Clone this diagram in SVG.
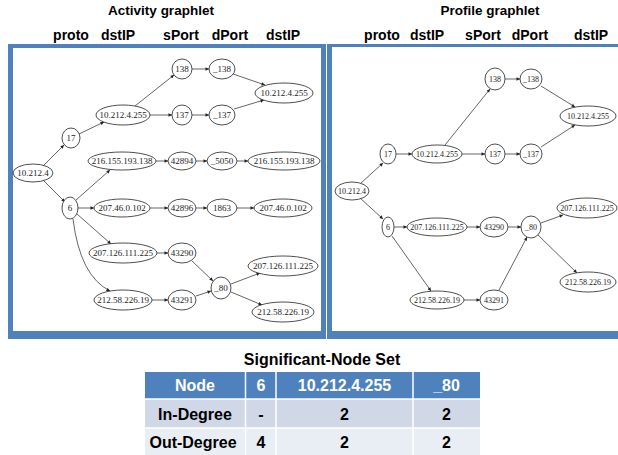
<svg xmlns="http://www.w3.org/2000/svg" width="618" height="455" viewBox="0 0 618 455">
<style>
.title{font-family:"Liberation Sans",Arial,sans-serif;font-weight:bold;font-size:13.5px;fill:#000;text-anchor:middle}
.hdr{font-family:"Liberation Sans",Arial,sans-serif;font-weight:bold;font-size:14px;fill:#000;text-anchor:middle}
.nd ellipse{fill:#fff;stroke:#222;stroke-width:0.8}
.nd text{font-family:"Liberation Serif","Times New Roman",serif;font-size:9px;fill:#222;text-anchor:middle}
.r .nd text{font-size:8px}
.edges line,.edges path{stroke:#222;stroke-width:0.7;fill:none;marker-end:url(#ah)}
.tt{font-family:"Liberation Sans",Arial,sans-serif;font-weight:bold;font-size:16px;text-anchor:middle;fill:#000}
.th{fill:#fff}
.frame{fill:#4F81BD}
</style>
<defs>
<marker id="ah" viewBox="0 0 10 10" refX="10" refY="5" markerWidth="4.5" markerHeight="3.5" markerUnits="userSpaceOnUse" orient="auto">
<path d="M0,0 L10,5 L0,10 z" fill="#222"/>
</marker>
</defs>
<rect width="618" height="455" fill="#fff"/>

<!-- Titles -->
<text class="title" x="161" y="15">Activity graphlet</text>
<text class="title" x="490" y="15">Profile graphlet</text>
<text class="hdr" x="71" y="40">proto</text>
<text class="hdr" x="118" y="40">dstIP</text>
<text class="hdr" x="181" y="40">sPort</text>
<text class="hdr" x="230" y="40">dPort</text>
<text class="hdr" x="283" y="40">dstIP</text>
<text class="hdr" x="382" y="40">proto</text>
<text class="hdr" x="427" y="40">dstIP</text>
<text class="hdr" x="483" y="40">sPort</text>
<text class="hdr" x="530" y="40">dPort</text>
<text class="hdr" x="591" y="40">dstIP</text>

<!-- Frames -->
<path class="frame" d="M8,44 H326 V339 H8 Z M13,48 V331 H321 V48 Z" fill-rule="evenodd"/>
<path class="frame" d="M327,44 H620 V339 H327 Z M332,47 V331 H620 V47 Z" fill-rule="evenodd"/>

<!-- Left graph -->
<g class="l">
<g class="edges" id="edges-left">
<line x1="43" y1="166" x2="64" y2="145"/>
<line x1="43" y1="180" x2="65" y2="202"/>
<line x1="79" y1="134" x2="104" y2="122"/>
<line x1="135" y1="106" x2="174" y2="75"/>
<line x1="150" y1="115" x2="172" y2="115"/>
<line x1="192" y1="69" x2="209" y2="69"/>
<line x1="192" y1="115" x2="209" y2="115"/>
<line x1="233" y1="74" x2="265" y2="85"/>
<line x1="234" y1="109" x2="264" y2="100"/>
<line x1="76" y1="200" x2="110" y2="170"/>
<line x1="156" y1="161" x2="168" y2="161"/>
<line x1="196" y1="161" x2="207" y2="161"/>
<line x1="237" y1="161" x2="248" y2="161"/>
<line x1="78" y1="208" x2="94" y2="208"/>
<line x1="150" y1="208" x2="168" y2="208"/>
<line x1="196" y1="208" x2="207" y2="208"/>
<line x1="237" y1="208" x2="254" y2="208"/>
<line x1="77" y1="214" x2="111" y2="244"/>
<path d="M73,219 Q80,276 110,291"/>
<line x1="157" y1="253" x2="168" y2="253"/>
<line x1="152" y1="300" x2="168" y2="300"/>
<line x1="192" y1="261" x2="213" y2="281"/>
<line x1="196" y1="296" x2="211" y2="291"/>
<line x1="231" y1="284" x2="260" y2="273"/>
<line x1="231" y1="292" x2="262" y2="305"/>
</g>
<g class="nd" id="a1"><ellipse cx="33" cy="173" rx="20" ry="9"/><text x="33" y="176">10.212.4</text></g>
<g class="nd" id="a2"><ellipse cx="71" cy="138" rx="9" ry="10"/><text x="71" y="141">17</text></g>
<g class="nd" id="a3"><ellipse cx="70" cy="208" rx="8" ry="11"/><text x="70" y="211">6</text></g>
<g class="nd" id="a4"><ellipse cx="123" cy="115" rx="27" ry="10"/><text x="123" y="118">10.212.4.255</text></g>
<g class="nd" id="a5"><ellipse cx="122" cy="161" rx="34" ry="9"/><text x="122" y="164">216.155.193.138</text></g>
<g class="nd" id="a6"><ellipse cx="122" cy="208" rx="28" ry="9"/><text x="122" y="211">207.46.0.102</text></g>
<g class="nd" id="a7"><ellipse cx="123" cy="253" rx="34" ry="10"/><text x="123" y="256">207.126.111.225</text></g>
<g class="nd" id="a8"><ellipse cx="123" cy="300" rx="29" ry="10"/><text x="123" y="303">212.58.226.19</text></g>
<g class="nd" id="a9"><ellipse cx="182" cy="69" rx="10" ry="10"/><text x="182" y="72">138</text></g>
<g class="nd" id="a10"><ellipse cx="182" cy="115" rx="10" ry="10"/><text x="182" y="118">137</text></g>
<g class="nd" id="a11"><ellipse cx="182" cy="161" rx="14" ry="9"/><text x="182" y="164">42894</text></g>
<g class="nd" id="a12"><ellipse cx="182" cy="208" rx="14" ry="9"/><text x="182" y="211">42896</text></g>
<g class="nd" id="a13"><ellipse cx="182" cy="253" rx="14" ry="10"/><text x="182" y="256">43290</text></g>
<g class="nd" id="a14"><ellipse cx="182" cy="300" rx="14" ry="10"/><text x="182" y="303">43291</text></g>
<g class="nd" id="a15"><ellipse cx="222" cy="69" rx="13" ry="10"/><text x="222" y="72">_138</text></g>
<g class="nd" id="a16"><ellipse cx="222" cy="115" rx="13" ry="10"/><text x="222" y="118">_137</text></g>
<g class="nd" id="a17"><ellipse cx="222" cy="161" rx="15" ry="9"/><text x="222" y="164">_5050</text></g>
<g class="nd" id="a18"><ellipse cx="222" cy="208" rx="15" ry="9"/><text x="222" y="211">1863</text></g>
<g class="nd" id="a19"><ellipse cx="221" cy="288" rx="10" ry="11"/><text x="221" y="291">_80</text></g>
<g class="nd" id="a20"><ellipse cx="284" cy="93" rx="29" ry="10"/><text x="284" y="96">10.212.4.255</text></g>
<g class="nd" id="a21"><ellipse cx="284" cy="161" rx="36" ry="9"/><text x="284" y="164">216.155.193.138</text></g>
<g class="nd" id="a22"><ellipse cx="283" cy="208" rx="29" ry="9"/><text x="283" y="211">207.46.0.102</text></g>
<g class="nd" id="a23"><ellipse cx="283" cy="266" rx="35" ry="10"/><text x="283" y="269">207.126.111.225</text></g>
<g class="nd" id="a24"><ellipse cx="283" cy="312" rx="31" ry="10"/><text x="283" y="315">212.58.226.19</text></g>
</g>

<!-- Right graph -->
<g class="r">
<g class="edges" id="edges-right">
<line x1="361" y1="183" x2="383" y2="163"/>
<line x1="360" y1="198" x2="383" y2="219"/>
<line x1="396" y1="154" x2="412" y2="154"/>
<line x1="445" y1="145" x2="490" y2="89"/>
<line x1="462" y1="154" x2="485" y2="154"/>
<line x1="505" y1="79" x2="520" y2="79"/>
<line x1="505" y1="154" x2="520" y2="154"/>
<line x1="541" y1="86" x2="575" y2="107"/>
<line x1="541" y1="147" x2="575" y2="125"/>
<line x1="394" y1="227" x2="407" y2="227"/>
<line x1="392" y1="236" x2="431" y2="291"/>
<line x1="467" y1="227" x2="480" y2="227"/>
<line x1="508" y1="227" x2="521" y2="227"/>
<line x1="464" y1="300" x2="480" y2="300"/>
<line x1="499" y1="290" x2="527" y2="237"/>
<line x1="541" y1="223" x2="563" y2="215"/>
<line x1="538" y1="235" x2="577" y2="273"/>
</g>
<g class="nd" id="b1"><ellipse cx="352" cy="191" rx="17" ry="9"/><text x="352" y="194">10.212.4</text></g>
<g class="nd" id="b2"><ellipse cx="388" cy="154" rx="8" ry="10"/><text x="388" y="157">17</text></g>
<g class="nd" id="b3"><ellipse cx="388" cy="227" rx="6" ry="10"/><text x="388" y="230">6</text></g>
<g class="nd" id="b4"><ellipse cx="437" cy="154" rx="25" ry="9"/><text x="437" y="157">10.212.4.255</text></g>
<g class="nd" id="b5"><ellipse cx="437" cy="227" rx="30" ry="9"/><text x="437" y="230">207.126.111.225</text></g>
<g class="nd" id="b6"><ellipse cx="437" cy="300" rx="27" ry="9"/><text x="437" y="303">212.58.226.19</text></g>
<g class="nd" id="b7"><ellipse cx="495" cy="79" rx="10" ry="11"/><text x="495" y="82">138</text></g>
<g class="nd" id="b8"><ellipse cx="495" cy="154" rx="10" ry="10"/><text x="495" y="157">137</text></g>
<g class="nd" id="b9"><ellipse cx="494" cy="227" rx="14" ry="10"/><text x="494" y="230">43290</text></g>
<g class="nd" id="b10"><ellipse cx="494" cy="300" rx="14" ry="10"/><text x="494" y="303">43291</text></g>
<g class="nd" id="b11"><ellipse cx="531" cy="79" rx="11" ry="10"/><text x="531" y="82">_138</text></g>
<g class="nd" id="b12"><ellipse cx="531" cy="154" rx="11" ry="10"/><text x="531" y="157">_137</text></g>
<g class="nd" id="b13"><ellipse cx="531" cy="227" rx="10" ry="11"/><text x="531" y="230">_80</text></g>
<g class="nd" id="b14"><ellipse cx="588" cy="116" rx="28" ry="10"/><text x="588" y="119">10.212.4.255</text></g>
<g class="nd" id="b15"><ellipse cx="587" cy="208" rx="30" ry="10"/><text x="587" y="211">207.126.111.225</text></g>
<g class="nd" id="b16"><ellipse cx="588" cy="282" rx="28" ry="10"/><text x="588" y="285">212.58.226.19</text></g>
</g>

<!-- Table -->
<g id="table">
<text class="tt" x="322" y="365">Significant-Node Set</text>
<rect x="145" y="372" width="335" height="27" fill="#4F81BD"/>
<rect x="145" y="399" width="335" height="29" fill="#D0D8E8"/>
<rect x="145" y="428" width="335" height="27" fill="#E9EDF4"/>
<g stroke="#fff" stroke-width="1.5">
<line x1="145" y1="399" x2="480" y2="399"/>
<line x1="145" y1="428" x2="480" y2="428"/>
<line x1="245.5" y1="372" x2="245.5" y2="455"/>
<line x1="276" y1="372" x2="276" y2="455"/>
<line x1="413" y1="372" x2="413" y2="455"/>
</g>
<text class="tt th" x="195" y="391">Node</text>
<text class="tt th" x="261" y="391">6</text>
<text class="tt th" x="344.5" y="391">10.212.4.255</text>
<text class="tt th" x="446.5" y="391">_80</text>
<text class="tt" x="195" y="419.5">In-Degree</text>
<text class="tt" x="261" y="419.5">-</text>
<text class="tt" x="344.5" y="419.5">2</text>
<text class="tt" x="446.5" y="419.5">2</text>
<text class="tt" x="193" y="447.5">Out-Degree</text>
<text class="tt" x="261" y="447.5">4</text>
<text class="tt" x="344.5" y="447.5">2</text>
<text class="tt" x="446.5" y="447.5">2</text>
</g>
</svg>
